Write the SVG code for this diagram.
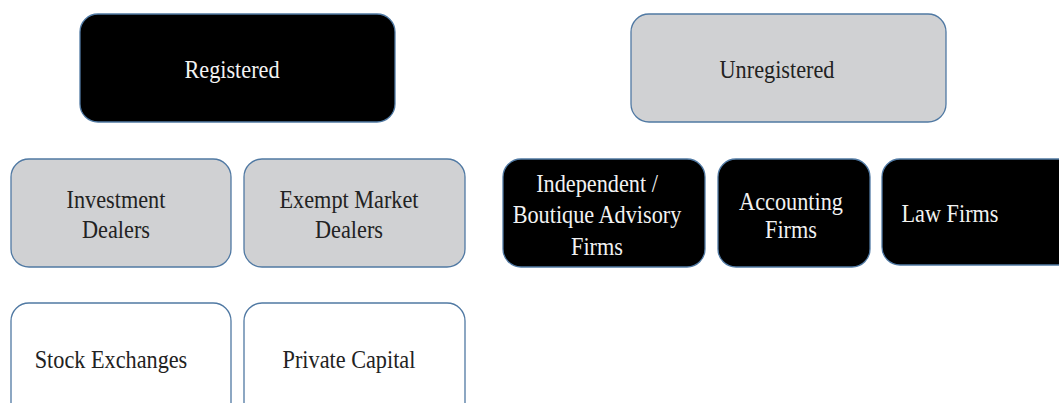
<svg xmlns="http://www.w3.org/2000/svg" width="1059" height="403" viewBox="0 0 1059 403">
  <style>
    .box { stroke: #5079a3; stroke-width: 1.3; }
    .dark { fill: #000000; }
    .grey { fill: #d0d1d3; }
    .light { fill: #ffffff; }
    text { font-family: "Liberation Serif", "Times New Roman", serif; font-size: 25px; text-anchor: middle; }
    .on-dark { fill: #f2f2f2; }
    .on-light { fill: #222222; }
  </style>
  <rect width="1059" height="403" fill="#ffffff"/>

  <!-- top row: category headers -->
  <g id="registered">
    <rect class="box dark" x="80" y="14" width="315" height="108" rx="18"/>
    <g transform="translate(232,78) scale(0.89,1)"><text class="on-dark" x="0" y="0">Registered</text></g>
  </g>
  <g id="unregistered">
    <rect class="box grey" x="631" y="14" width="315" height="108" rx="18"/>
    <g transform="translate(777,78) scale(0.89,1)"><text class="on-light" x="0" y="0">Unregistered</text></g>
  </g>

  <!-- second row -->
  <g id="investment-dealers">
    <rect class="box grey" x="11" y="159" width="220" height="108" rx="18"/>
    <g transform="translate(116,0) scale(0.89,1)">
      <text class="on-light" x="0" y="208">Investment</text>
      <text class="on-light" x="0" y="238">Dealers</text>
    </g>
  </g>
  <g id="exempt-market-dealers">
    <rect class="box grey" x="244" y="159" width="221" height="108" rx="18"/>
    <g transform="translate(349,0) scale(0.89,1)">
      <text class="on-light" x="0" y="208">Exempt Market</text>
      <text class="on-light" x="0" y="238">Dealers</text>
    </g>
  </g>
  <g id="boutique-advisory">
    <rect class="box dark" x="503" y="159" width="202" height="108" rx="18"/>
    <g transform="translate(597,0) scale(0.89,1)">
      <text class="on-dark" x="0" y="192">Independent /</text>
      <text class="on-dark" x="0" y="223">Boutique Advisory</text>
      <text class="on-dark" x="0" y="255">Firms</text>
    </g>
  </g>
  <g id="accounting-firms">
    <rect class="box dark" x="718" y="159" width="152" height="108" rx="18"/>
    <g transform="translate(791,0) scale(0.89,1)">
      <text class="on-dark" x="0" y="210">Accounting</text>
      <text class="on-dark" x="0" y="238">Firms</text>
    </g>
  </g>
  <g id="law-firms">
    <rect class="box dark" x="882" y="159" width="200" height="106" rx="18"/>
    <g transform="translate(950,222) scale(0.89,1)"><text class="on-dark" x="0" y="0">Law Firms</text></g>
  </g>

  <!-- third row -->
  <g id="stock-exchanges">
    <rect class="box light" x="11" y="303" width="220" height="130" rx="18"/>
    <g transform="translate(111,368) scale(0.89,1)"><text class="on-light" x="0" y="0">Stock Exchanges</text></g>
  </g>
  <g id="private-capital">
    <rect class="box light" x="244" y="303" width="221" height="130" rx="18"/>
    <g transform="translate(349,368) scale(0.89,1)"><text class="on-light" x="0" y="0">Private Capital</text></g>
  </g>

  <g id="connectors"/>
</svg>
